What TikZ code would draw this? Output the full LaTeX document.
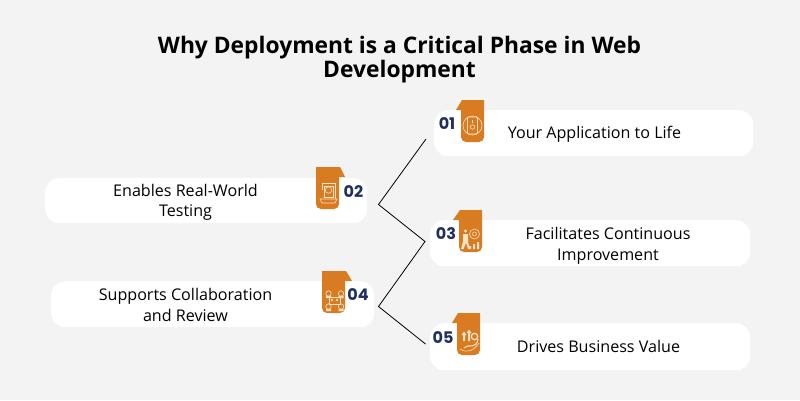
\documentclass[tikz,border=0pt]{standalone}
\usepackage{fontspec}
\setmainfont{Open Sans}
\newfontfamily\numfont{Poppins}
\definecolor{tabor}{HTML}{D97B20}
\definecolor{navy}{HTML}{1F2F63}
\definecolor{bgrey}{HTML}{F3F3F3}
\definecolor{iconl}{HTML}{FBE3C8}
% #1 left edge, #2 top edge, then the top band: #3 and #6 at its foot, #4 and #5 at its head
\newcommand{\foldtab}[6]{%
  \fill[tabor,rounded corners=5pt] (#1,#2+6) -- (#1,#2+42) -- (#1+23,#2+42) -- (#1+23,#2+6) -- cycle;
  \fill[tabor] (#3,#2+10) -- (#4,#2) -- (#5,#2) -- (#6,#2+10) -- cycle;
  \fill[tabor] (#1,#2+9) rectangle (#1+23,#2+20);
}
\begin{document}
\begin{tikzpicture}[x=1pt,y=-1pt,
  card/.style={fill=white,rounded corners=14pt,anchor=north west,inner sep=0pt},
  cardtext/.style={align=center,font=\fontsize{16.1}{20.5}\selectfont,text=black,inner sep=0pt},
  num/.style={font=\numfont\bfseries\fontsize{16}{18}\selectfont,text=navy,inner sep=0pt},
  icon/.style={draw=iconl,line width=.6pt},
  link/.style={draw=black,line width=.8pt,line join=miter}]
\fill[bgrey] (0,0) rectangle (800,400);
\useasboundingbox (0,0) rectangle (800,400);

\node[align=center,font=\bfseries\fontsize{22.8}{22.5}\selectfont,inner sep=0pt] (title) at (399.5,59.5)
  {Why Deployment is a Critical Phase in Web\\Development};

% cards
\node[card,minimum width=319pt,minimum height=46pt] (card1) at (434,110) {};
\node[card,minimum width=322pt,minimum height=45pt] (card2) at (45,178) {};
\node[card,minimum width=320pt,minimum height=46pt] (card3) at (430,220) {};
\node[card,minimum width=323pt,minimum height=46pt] (card4) at (51,281) {};
\node[card,minimum width=320pt,minimum height=47pt] (card5) at (430,323) {};

% tabs
\foldtab{461}{100}{456}{462}{484}{484}
\foldtab{316}{167}{316}{316}{340}{345}
\foldtab{459}{210}{453}{460}{482}{482}
\foldtab{322}{271}{322}{322}{346}{352}
\foldtab{457}{313}{452}{458}{480}{480}

% labels
\node[cardtext] (txt1) at (594.5,134.5) {Your Application to Life};
\node[cardtext] (txt2) at (185.5,202.5) {Enables Real-World\\Testing};
\node[cardtext] (txt3) at (608,246) {Facilitates Continuous\\Improvement};
\node[cardtext] (txt4) at (185.5,305) {Supports Collaboration\\and Review};
\node[cardtext] (txt5) at (598.5,346) {Drives Business Value};

\node[num] (n1) at (447,123.5) {01};
\node[num] (n2) at (353.5,191.5) {02};
\node[num] (n3) at (446,234) {03};
\node[num] (n4) at (358,295) {04};
\node[num] (n5) at (443,337.5) {05};

% icon 01: phone in a ring
\draw[icon] (472.5,125.5) circle (9.5);
\draw[icon,rounded corners=1pt] (467.5,117) rectangle (477.5,134);
\draw[icon] (472.5,127) circle (2.2) (472.5,120) -- (472.5,123);
% icon 02: laptop with a badge
\draw[icon] (322,190) -- (322,183) -- (335,183) -- (335,199) (324,186) rectangle (333,197);
\draw[icon] (328.5,190) circle (3.2);
\draw[icon] (320,199) -- (337,199) -- (335,203) -- (322,203) -- cycle;
% icon 03: figure, gear and bars
\draw[icon] (474.5,234) circle (5) (474.5,234) circle (2);
\fill[iconl] (465.5,231) circle (1.6) (463,234) rectangle (468,242) (463,242) -- (461,249) -- (463.5,249) -- (466,243) -- (468,249) -- (470,249) -- (468,242) -- cycle;
\fill[iconl] (469,246) rectangle (471,249) (473,244) rectangle (475,249) (477,242) rectangle (479,249);
% icon 04: four people round a screen
\draw[icon] (328.5,293.5) circle (2.7) (341,293.5) circle (2.7) (328.5,306.5) circle (2.7) (341,306.5) circle (2.7);
\fill[iconl] (326,296) rectangle (331,298) (338.5,296) rectangle (343.5,298) (326,309) rectangle (331,311) (338.5,309) rectangle (343.5,311);
\draw[icon] (329,297) rectangle (340.5,304);
\draw[icon] (332,300) circle (1) (337,300) circle (1);
% icon 05: arrows over a hand
\draw[icon,line width=1.1pt] (464,348) .. controls (470,343) and (476,350) .. (478,339);
\draw[icon] (460,349) .. controls (468,354) and (474,350) .. (479,343);
\fill[iconl] (463,335) rectangle (465,341) (468,332) rectangle (470,341);
\fill[iconl] (461.5,335) -- (464,331.5) -- (466.5,335) -- cycle (466.5,333) -- (469,329.5) -- (471.5,333) -- cycle;
\draw[icon,line width=1.2pt] (474.5,336.5) circle (3.2);

% connector
\coordinate (j1) at (426,139);
\coordinate (j2) at (378.5,204.5);
\coordinate (j3) at (425,241.5);
\coordinate (j4) at (378.5,306.5);
\coordinate (j5) at (425.5,344);
\draw[link] (j1) -- (j2) -- (j3) -- (j4) -- (j5);
\end{tikzpicture}
\end{document}
